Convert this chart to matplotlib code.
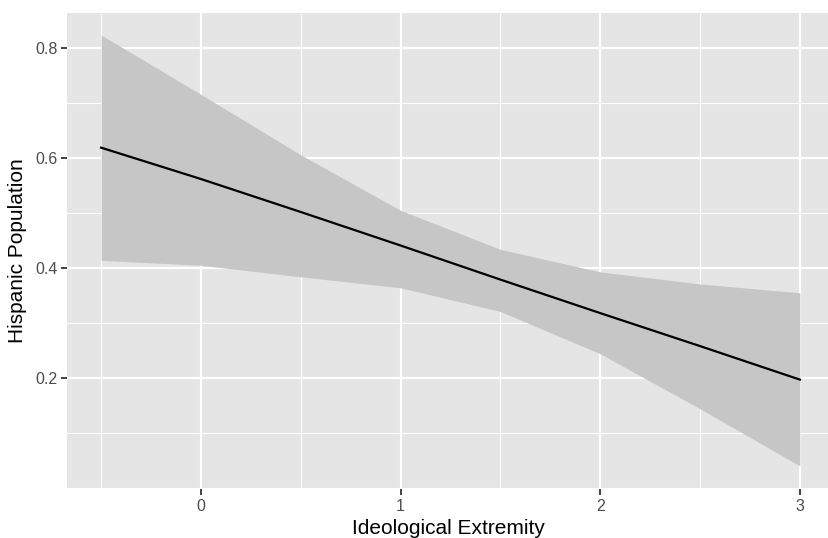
import matplotlib
matplotlib.use("Agg")
import matplotlib.pyplot as plt
from matplotlib.ticker import MultipleLocator

# predicted effect of ideological extremity
extremity = [-0.5, 0.0, 0.5, 1.0, 1.5, 2.0, 2.5, 3.0]
fit = [0.619, 0.562, 0.502, 0.441, 0.379, 0.318, 0.258, 0.197]
upper = [0.824, 0.716, 0.606, 0.505, 0.434, 0.393, 0.371, 0.355]
lower = [0.414, 0.405, 0.384, 0.364, 0.321, 0.244, 0.144, 0.040]

x_ticks = [0, 1, 2, 3]
y_ticks = [0.2, 0.4, 0.6, 0.8]
y_tick_labels = ["0.2", "0.4", "0.6", "0.8"]

plt.rcParams["font.family"] = ["Liberation Sans", "DejaVu Sans"]

fig = plt.figure(figsize=(8.29, 5.38), dpi=100)
ax = fig.add_axes([0.0808, 0.0911, 0.9192, 0.8847])
ax.set_facecolor("#e5e5e5")

# ggplot-like grid
ax.xaxis.set_minor_locator(MultipleLocator(0.5))
ax.yaxis.set_minor_locator(MultipleLocator(0.1))
ax.grid(which="major", color="white", linewidth=1.6)
ax.grid(which="minor", color="white", linewidth=0.8)
ax.set_axisbelow(True)

ax.fill_between(extremity, lower, upper, color="#c6c6c6", linewidth=0)
ax.plot(extremity, fit, color="black", linewidth=1.6)

ax.set_xlim(-0.671, 3.146)
ax.set_ylim(-0.002, 0.864)
ax.set_xticks(x_ticks)
ax.set_yticks(y_ticks)
ax.set_yticklabels(y_tick_labels)

for s in ax.spines.values():
    s.set_visible(False)
ax.tick_params(which="major", length=4, width=1.3, color="#333333",
               labelsize=11.5, labelcolor="#4d4d4d", pad=3)
ax.tick_params(which="minor", length=0)

ax.set_xlabel("Ideological Extremity", fontsize=15, color="black", labelpad=4)
ax.set_ylabel("Hispanic Population", fontsize=15, color="black", labelpad=6)

fig.savefig("out.png", dpi=100)
